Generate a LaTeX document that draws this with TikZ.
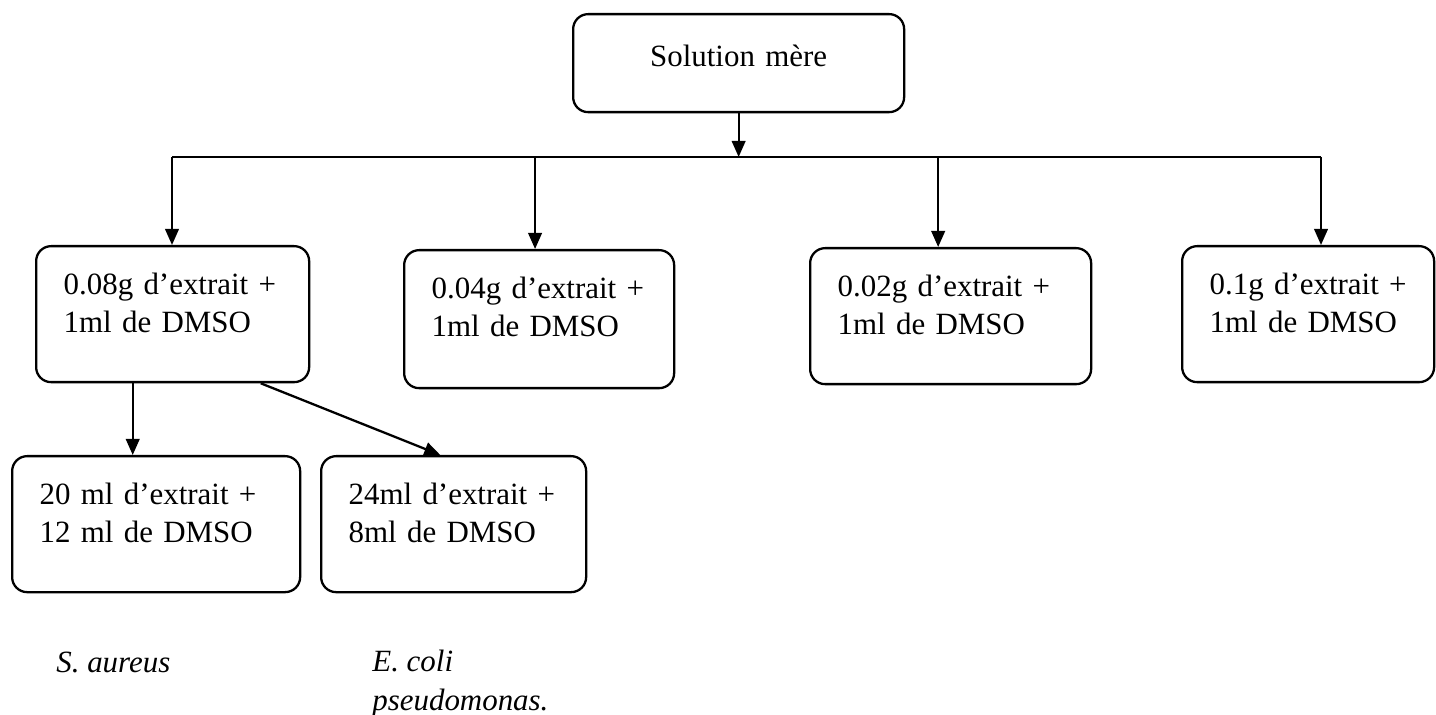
\documentclass[tikz,border=0pt]{standalone}
\usepackage{fontspec}
\setmainfont{Liberation Serif}
\usetikzlibrary{arrows.meta, calc}
\newcommand{\dilfont}{\fontsize{17.6}{22}\selectfont}

\begin{document}
\begin{tikzpicture}[>={Triangle[length=0.32cm, width=0.27cm]},
  tube/.style={draw, line width=1.3pt, rounded corners=0.3cm, anchor=north west,
    align=left, inner ysep=0pt, inner xsep=0.55cm, font=\dilfont,
    text height=0.96cm, text depth=1.76cm},
  link/.style={line width=1.3pt},
  germ/.style={font=\dilfont\itshape, align=left, anchor=base west, inner sep=0pt}]

% Page frame
\useasboundingbox (0,0) rectangle (28.72,-14.30);

% Stock solution
\node[tube, align=center, inner xsep=0.3cm, text width=6.02cm,
  text height=1.04cm, text depth=0.92cm] (mere) at (11.44,-0.26) {Solution mère};

% Distribution bar
\coordinate (busL) at (3.44,-3.14);
\coordinate (busR) at (26.42,-3.14);
\draw[link] (busL) -- (busR);
\draw[link, ->] (mere.south) -- (mere.south |- busL);

% ============================================================
% First dilutions
% ============================================================
\node[tube, text width=4.36cm] (c1) at (0.70,-4.90)
  {0.08g d’extrait +\\1ml de DMSO};
\node[tube, text width=4.30cm, text depth=1.80cm] (c2) at (8.06,-4.98)
  {0.04g d’extrait +\\1ml de DMSO};
\node[tube, text width=4.52cm] (c3) at (16.18,-4.94)
  {0.02g d’extrait +\\1ml de DMSO};
\node[tube, text width=3.94cm] (c4) at (23.62,-4.90)
  {0.1g d’extrait +\\1ml de DMSO};

% Arrows from the bar down to each tube
\coordinate (c2top) at ($(c2.north west)!0.485!(c2.north east)$);
\coordinate (c3top) at ($(c3.north west)!0.456!(c3.north east)$);
\draw[link, ->] (busL) -- (busL |- c1.north);
\draw[link, ->] (c2top |- busL) -- (c2top);
\draw[link, ->] (c3top |- busL) -- (c3top);
\draw[link, ->] (busR) -- (busR |- c4.north);

% ============================================================
% Second dilutions (from the 0.08g tube)
% ============================================================
\node[tube, text width=4.66cm] (sa) at (0.22,-9.10)
  {20 ml d’extrait +\\12 ml de DMSO};
\node[tube, text width=4.20cm] (ec) at (6.40,-9.10)
  {24ml d’extrait +\\8ml de DMSO};

\coordinate (c1down) at ($(c1.south west)!0.355!(c1.south east)$);
\draw[link, ->] (c1down) -- (c1down |- sa.north);
\draw[link, ->] ($(c1.south west)!0.82!(c1.south east)$)
  -- ($(ec.north west)!0.45!(ec.north east)$);

% Strains
\node[germ] (saname) at (1.12,-13.44) {S. aureus};
\node[germ] (ecname) at (7.44,-14.20) {E. coli\\pseudomonas.};

\end{tikzpicture}
\end{document}
